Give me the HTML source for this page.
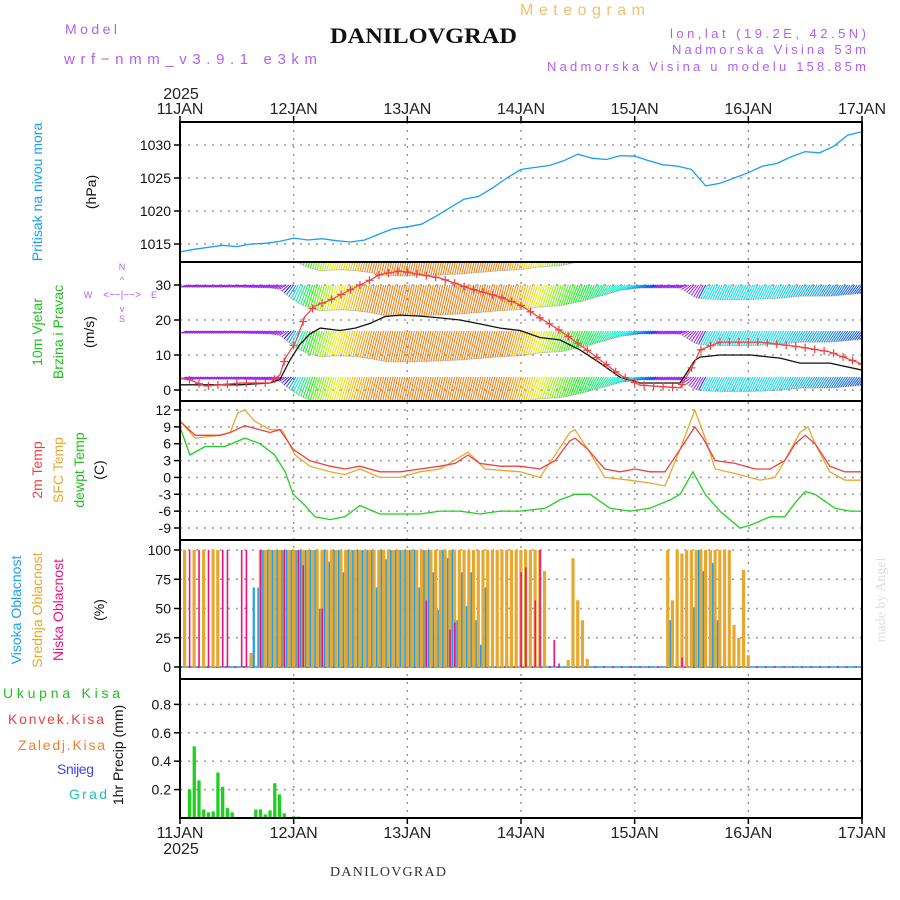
<!DOCTYPE html>
<html><head><meta charset="utf-8"><style>
html,body{margin:0;padding:0;background:#fff;}
svg{display:block;font-family:"Liberation Sans",sans-serif;}
</style></head><body>
<svg id="chart" width="900" height="900" viewBox="0 0 900 900" xmlns="http://www.w3.org/2000/svg">
<defs><clipPath id="clipWind"><rect x="180" y="262" width="682" height="139"/></clipPath></defs>
<g id="header">
<text x="65" y="34" font-size="14" fill="#b060f0" textLength="52" lengthAdjust="spacing">Model</text>
<text x="64" y="64" font-size="15" fill="#b060f0" textLength="253" lengthAdjust="spacing">wrf−nmm_v3.9.1 e3km</text>
<text x="520" y="15" font-size="16" fill="#f0c070" textLength="125" lengthAdjust="spacing">Meteogram</text>
<text x="330" y="43" font-size="22" font-weight="bold" font-family="Liberation Serif,serif" fill="#111" textLength="187" lengthAdjust="spacingAndGlyphs">DANILOVGRAD</text>
<text x="670" y="38" font-size="13" fill="#b060f0" textLength="196" lengthAdjust="spacing">lon,lat (19.2E, 42.5N)</text>
<text x="672" y="54" font-size="13" fill="#b060f0" textLength="194" lengthAdjust="spacing">Nadmorska Visina 53m</text>
<text x="547" y="71" font-size="13" fill="#b060f0" textLength="319" lengthAdjust="spacing">Nadmorska Visina u modelu 158.85m</text>
<text x="181" y="99" font-size="16" fill="#222" text-anchor="middle">2025</text>
<text x="330" y="876" font-size="14" font-family="Liberation Serif,serif" fill="#333" textLength="116" lengthAdjust="spacing">DANILOVGRAD</text>
<text x="885" y="600" font-size="14" font-family="Liberation Serif,serif" fill="#dde0dd" text-anchor="middle" transform="rotate(-90 885 600)">made by Angel</text>
</g>
<g id="labels">
<text transform="translate(42,192) rotate(-90)" font-size="14" fill="#1a9ff0" text-anchor="middle">Pritisak na nivou mora</text>
<text transform="translate(96,192) rotate(-90)" font-size="14" fill="#111" text-anchor="middle">(hPa)</text>
<text transform="translate(42,332) rotate(-90)" font-size="14" fill="#20c020" text-anchor="middle">10m Vjetar</text>
<text transform="translate(63,332) rotate(-90)" font-size="14" fill="#20c020" text-anchor="middle">Brzina i Pravac</text>
<text transform="translate(94,332) rotate(-90)" font-size="14" fill="#111" text-anchor="middle">(m/s)</text>
<g fill="#b060f0" font-size="9" text-anchor="middle">
<text x="122" y="270">N</text><text x="122" y="322">S</text><text x="88" y="298">W</text><text x="154" y="298">E</text>
<text x="122" y="298" font-size="10">&lt;−−|−−&gt;</text>
<text x="122" y="283" font-size="9">^</text><text x="122" y="312" font-size="9">v</text>
</g>
<text transform="translate(42,470) rotate(-90)" font-size="14" fill="#f04040" text-anchor="middle">2m Temp</text>
<text transform="translate(63,470) rotate(-90)" font-size="14" fill="#e8a830" text-anchor="middle">SFC Temp</text>
<text transform="translate(84,470) rotate(-90)" font-size="14" fill="#20c020" text-anchor="middle">dewpt Temp</text>
<text transform="translate(104,470) rotate(-90)" font-size="14" fill="#111" text-anchor="middle">(C)</text>
<text transform="translate(21,610) rotate(-90)" font-size="14" fill="#1a9ff0" text-anchor="middle">Visoka Oblacnost</text>
<text transform="translate(42,610) rotate(-90)" font-size="14" fill="#e8a830" text-anchor="middle">Srednja Oblacnost</text>
<text transform="translate(63,610) rotate(-90)" font-size="14" fill="#f0107f" text-anchor="middle">Niska Oblacnost</text>
<text transform="translate(104,610) rotate(-90)" font-size="14" fill="#111" text-anchor="middle">(%)</text>
<text x="3" y="698" font-size="14" fill="#20c020" textLength="117" lengthAdjust="spacing">Ukupna Kisa</text>
<text x="8" y="724" font-size="14" fill="#f04040" textLength="96" lengthAdjust="spacing">Konvek.Kisa</text>
<text x="18" y="750" font-size="14" fill="#f08030" textLength="87" lengthAdjust="spacing">Zaledj.Kisa</text>
<text x="57" y="774" font-size="14" fill="#4040f0" textLength="37" lengthAdjust="spacing">Snijeg</text>
<text x="69" y="799" font-size="14" fill="#20c0c0" textLength="38" lengthAdjust="spacing">Grad</text>
<text transform="translate(123,755) rotate(-90)" font-size="14" fill="#111" text-anchor="middle">1hr Precip (mm)</text>
</g>
<g id="plot"></g>
</svg>
<script>
// ---------- DATA ----------
const dayLabels = ["11JAN","12JAN","13JAN","14JAN","15JAN","16JAN","17JAN"];
const pressTicks = [1015,1020,1025,1030];
const windTicks = [0,10,20,30];
const tempTicks = [-9,-6,-3,0,3,6,9,12];
const cloudTicks = [0,25,50,75,100];
const precipTicks = [0.2,0.4,0.6,0.8];

const pressHours = [0,3,6,9,12,15,18,21,24,27,30,33,36,39,42,45,48,51,54,57,60,63,66,69,72,75,78,81,84,87,90,93,96,99,102,105,108,111,114,117,120,123,126,129,132,135,138,141,144];
const pressVals = [1013.8,1014.2,1014.5,1014.8,1014.6,1015.0,1015.1,1015.4,1015.9,1015.6,1015.8,1015.5,1015.3,1015.6,1016.5,1017.3,1017.6,1018.0,1019.2,1020.5,1021.8,1022.2,1023.5,1025.0,1026.3,1026.6,1026.9,1027.6,1028.6,1028.0,1027.8,1028.4,1028.3,1027.6,1027.0,1026.8,1026.3,1023.8,1024.2,1025.0,1025.8,1026.8,1027.2,1028.2,1029.0,1028.8,1029.8,1031.5,1032.0];

const speedHours = [0,12.7,19,21.1,23.2,25.3,27.4,29.6,33.8,37,40.1,43.3,46.5,50.7,54.9,59.1,63.3,67.6,71.8,76,80.2,84.5,88.7,92.9,97.1,105.6,108.7,109.8,114,120.4,126.7,130.9,137.2,144];
const speedVals = [1.5,1.5,2,3,8.5,13,16,17.7,17,17.7,19,21,21.4,21.1,20.6,20,18.9,17.7,17,15,14.3,11.4,7.7,3.7,2,2,8.5,9.4,10,10,9.1,7.7,7.7,5.7];
const gustHours = [0,2.1,5.3,12.7,19,21.1,22.2,24.3,26.4,28.5,31.7,35.9,40.1,42.2,46.5,50.7,54.9,61.2,67.6,71.8,76,80.2,84.5,88.7,92.9,97.1,105.6,108.7,109.8,114,122.5,130.9,137.2,144];
const gustVals = [3.4,2.9,1.1,2,2,4.3,9,13.4,21,24,25.7,28.6,31.4,33,34,33,32,29,26.6,24.3,20.6,17,12.9,8.6,4.3,1.4,0.6,8,11.4,13.7,13.7,12.3,10.9,7.4];
const dirHours = [0,21,23,25,28,32,40,68,74,80,86,92,96,99,100,109,110,125,135,144];
const dirHue = [275,275,200,150,100,60,30,30,55,100,140,175,200,225,275,275,185,185,205,225];

const t2Hours = [0,3.2,8.4,10.6,13.7,19,21.1,23.9,27.4,31.7,34.8,38,42.2,46.5,50.7,54.9,58.1,60.8,63.3,67.6,71.8,76,79.2,82.3,83.4,86.1,89.7,92.9,96.1,99.2,102.4,105.6,108.7,110.4,113,117.2,121.4,124.6,127.7,129.9,132,134.1,137.2,140.4,144];
const t2Vals = [10,7.5,7.5,8,9.2,8,8.5,5,3,2,1.5,2,1,1,1.5,2,2.5,4,2.5,2,2,1.5,3,6.5,7,5,1.5,1,1.5,1,1,5,9,7,3,2.5,1.5,1.5,3,6,7.5,6,2,1,1];
const sfcHours = [0,3.2,8.4,10.6,12.2,13.7,15.8,19,21.5,24.3,27.4,31.7,34.8,38,42.2,46.5,50.7,54.9,60.8,64.4,71.8,76,79.2,82.3,83.4,86.1,89.7,95,99.2,102.4,105.6,108.7,110.9,113,118.2,122.5,125.6,127.7,130.9,132.6,134.1,137.2,140.4,144];
const sfcVals = [10,7,7.5,8,11.5,12,10,8.5,8.5,4,2,1,0.5,1.5,0,0,1,1.5,4.5,1.5,1,0,4,8,8.5,5,0,-0.5,-1,-1.5,5,12,7,1.5,0.5,-0.5,0,3,8,9,6,1,-0.5,-0.5];
const dewHours = [0,2.1,5.3,9.5,13.7,16.9,20,22.2,23.9,26.4,28.5,31.7,34.8,38,42.2,46.5,50.7,54.9,59.1,63.3,67.6,71.8,77.1,80.2,83.4,86.6,90.8,95,99.2,103.5,105.6,108.3,110.9,114,118.2,120.4,124.6,127.7,129.9,132,134.1,138.3,141.5,144];
const dewVals = [9,4,5.5,5.5,7,6,4,1,-3,-5,-7,-7.5,-7,-5,-6.5,-6.5,-6.5,-6,-6,-6.5,-6,-6,-5.5,-4,-3,-3,-5.5,-6,-5.5,-4,-3,1,-3,-6,-9,-8.5,-7,-7,-4.5,-2.5,-3,-5.5,-6,-6];

// hourly cloud cover (%) h0..h144
const highCloud = [0,0,0,0,0,0,0,0,0,0,0,0,0,0,0,68,68,100,100,100,100,100,100,100,100,100,100,100,100,50,100,90,100,100,81,100,100,100,100,100,100,68,100,92,100,100,100,100,100,100,68,100,100,81,49,100,93,100,40,81,52,81,40,19,68,0,0,0,0,0,0,0,0,0,0,0,0,0,0,0,0,0,0,0,0,0,0,0,0,0,0,0,0,0,0,0,0,0,0,0,0,0,0,40,0,0,0,0,51,100,82,0,89,40,0,0,0,0,0,0,0,0,0,0,0,0,0,0,0,0,0,0,0,0,0,0,0,0,0,0,0,0,0,0,0];
const midCloud = [0,100,0,100,0,100,0,100,100,0,0,0,0,0,0,12,0,100,100,100,100,100,100,100,100,100,100,100,100,100,100,100,100,100,100,100,100,100,100,100,100,100,100,100,100,100,100,100,100,100,100,100,100,100,100,100,100,100,100,100,100,100,100,100,100,100,100,100,100,100,100,100,100,100,100,100,100,82,0,0,0,0,6,93,57,40,7,0,0,0,0,0,0,0,0,0,0,0,0,0,0,0,0,100,57,100,97,100,100,100,100,100,100,100,100,100,100,36,25,83,10,0,0,0,0,0,0,0,0,0,0,0,0,0,0,0,0,0,0,0,0,0,0,0,0,0];
const lowCloud = [0,0,100,0,100,0,100,0,0,100,100,0,0,100,100,0,0,100,0,0,0,0,100,0,0,100,87,0,0,0,50,0,0,0,0,0,0,0,0,0,0,0,0,0,0,0,0,0,0,0,0,0,57,0,0,0,0,32,38,0,0,0,0,0,0,0,0,0,0,0,0,0,81,85,0,57,100,0,0,23,3,0,0,0,0,0,0,0,0,0,0,0,0,0,0,0,0,0,0,0,0,0,0,0,0,0,8,0,0,0,0,0,0,0,0,0,0,0,0,0,0,0,0,0,0,0,0,0,0,0,0,0,0,0,0,0,0,0,0,0,0];

const precipHours = [2,3,4,5,6,7,8,9,10,11,16,17,18,19,20,21,22,24,25];
const precipVals = [0.2,0.505,0.265,0.06,0.04,0.047,0.32,0.22,0.07,0.04,0.06,0.06,0.026,0.054,0.245,0.167,0.033,0.012,0.01];

// ---------- SCALES ----------
const X0=180, X1=862;
const X = h => X0 + h*(X1-X0)/144;
const Yp = p => 145 + (1030-p)*6.6;
const Yw = v => 390 - v*3.5;
const Yt = t => 410 + (12-t)*5.619;
const Yc = c => 667 - c*1.17;
const Ypr = v => 818 - v*142;
function interp(hs, vs, h){
  if(h<=hs[0]) return vs[0];
  for(let i=1;i<hs.length;i++){ if(h<=hs[i]){const f=(h-hs[i-1])/(hs[i]-hs[i-1]); return vs[i-1]+f*(vs[i]-vs[i-1]);} }
  return vs[vs.length-1];
}
const NS="http://www.w3.org/2000/svg";
const plot=document.getElementById('plot');
function mk(tag, attrs, parent){const e=document.createElementNS(NS,tag);for(const k in attrs)e.setAttribute(k,attrs[k]);(parent||plot).appendChild(e);return e;}
function ptsOf(hs, vs, yf){return hs.map((h,i)=>X(h).toFixed(1)+','+yf(vs[i]).toFixed(1)).join(' ');}

// ---------- GRID ----------
const grid=mk('g',{});


const panels=[[122,262],[262,401],[401,540],[540,679],[679,818]];
for(let d=1;d<6;d++){ mk('line',{x1:X(d*24),x2:X(d*24),y1:122,y2:818,stroke:'#999','stroke-width':1.5,'stroke-dasharray':'2 6'},grid); }
function hgrid(vals, yf){ vals.forEach(v=>mk('line',{x1:X0,x2:X1,y1:yf(v),y2:yf(v),stroke:'#999','stroke-width':1.5,'stroke-dasharray':'2 6'},grid)); }
hgrid(pressTicks,Yp); hgrid(windTicks,Yw); hgrid(tempTicks,Yt); hgrid(cloudTicks,Yc); hgrid(precipTicks,Ypr);

// ---------- PRESSURE ----------
const pl=mk('polyline',{points:ptsOf(pressHours,pressVals,Yp),fill:'none',stroke:'#1a9ff0','stroke-width':1.3});



// ---------- WIND ----------
const wg=mk('g',{'clip-path':'url(#clipWind)'});


const rowBases=[377,331,285,245];
rowBases.forEach(base=>{
  for(let h=0;h<=144;h+=0.5){
    const sp=interp(speedHours,speedVals,h);
    const hue=interp(dirHours,dirHue,h);
    const col=`hsl(${hue},95%,${hue>240?55:48}%)`;
    const depth=Math.max(2,sp*1.45);
    const x=X(h);
    mk('line',{x1:x,y1:base+depth,x2:x+7,y2:base,stroke:col,'stroke-width':1},wg);
  }
  let lo=[];
  for(let h=0;h<=144;h+=1){const sp=interp(speedHours,speedVals,h);lo.push(X(h)+','+(base+Math.max(2,sp*1.45)));}
  mk('polyline',{points:lo.join(' '),fill:'none',stroke:'rgba(120,120,60,0.35)','stroke-width':1},wg);
});
const sl=mk('polyline',{points:ptsOf(speedHours,speedVals,Yw),fill:'none',stroke:'#111','stroke-width':1.3,'clip-path':'url(#clipWind)'});


const gl=mk('polyline',{points:ptsOf(gustHours,gustVals,Yw),fill:'none',stroke:'#f04040','stroke-width':1.2,'clip-path':'url(#clipWind)'});


const gm=mk('g',{stroke:'#f04040','stroke-width':1.2,'clip-path':'url(#clipWind)'});


for(let h=0;h<=144;h+=2){const x=X(h),y=Yw(interp(gustHours,gustVals,h));mk('path',{d:`M${x-4},${y}H${x+4}M${x},${y-4}V${y+4}`},gm);}

// ---------- TEMPERATURE ----------
[[sfcHours,sfcVals,'#e8a830','sfc-temp-line'],[t2Hours,t2Vals,'#f04040','temp-2m-line'],[dewHours,dewVals,'#20d020','dewpoint-line']].forEach(s=>{
  const l=mk('polyline',{points:ptsOf(s[0],s[1],Yt),fill:'none',stroke:s[2],'stroke-width':1.3});
  
  
});

// ---------- CLOUDS ----------
const cg=mk('g',{});


mk('line',{x1:X0,x2:X1,y1:Yc(0),y2:Yc(0),stroke:'#1a9ff0','stroke-width':1.5},cg);
mk('line',{x1:X0,x2:X1,y1:Yc(0),y2:Yc(0),stroke:'#f0107f','stroke-width':1.5,'stroke-dasharray':'2 7'},cg);
for(let h=0;h<=144;h++){
  const x=X(h);
  if(midCloud[h]>0){const b=mk('rect',{x:x-1.7,y:Yc(midCloud[h]),width:3.2,height:Yc(0)-Yc(midCloud[h]),fill:'#e8a830'},cg);}
  if(highCloud[h]>0){const b=mk('rect',{x:x+1.6,y:Yc(highCloud[h]),width:2.2,height:Yc(0)-Yc(highCloud[h]),fill:'#1a9ff0'},cg);}
  if(lowCloud[h]>0){const b=mk('rect',{x:x-0.7,y:Yc(lowCloud[h]),width:1.6,height:Yc(0)-Yc(lowCloud[h]),fill:'#f0107f'},cg);}
}

// ---------- PRECIP ----------
const pg=mk('g',{});


precipHours.forEach((h,i)=>{const b=mk('rect',{x:X(h)-1.6,y:Ypr(precipVals[i]),width:3.3,height:818-Ypr(precipVals[i]),fill:'#20d020'},pg);});

// ---------- FRAMES & AXES ----------
const ax=mk('g',{});


panels.forEach(p=>mk('rect',{x:X0,y:p[0],width:X1-X0,height:p[1]-p[0],fill:'none',stroke:'#000','stroke-width':2},ax));
function yTicks(vals,yf,fmt){vals.forEach(v=>{const y=yf(v);mk('line',{x1:X0-6,x2:X0,y1:y,y2:y,stroke:'#000','stroke-width':1.5},ax);const t=mk('text',{x:X0-9,y:y+5,'font-size':14,'text-anchor':'end',fill:'#111'},ax);t.textContent=fmt?fmt(v):v;});}
yTicks(pressTicks,Yp); yTicks(windTicks,Yw); yTicks(tempTicks,Yt); yTicks(cloudTicks,Yc); yTicks(precipTicks,Ypr,v=>v.toFixed(1));
dayLabels.forEach((d,i)=>{const x=X(i*24);
  mk('line',{x1:x,x2:x,y1:116,y2:122,stroke:'#000','stroke-width':1.5},ax);
  mk('line',{x1:x,x2:x,y1:818,y2:824,stroke:'#000','stroke-width':1.5},ax);
  const t=mk('text',{x:x,y:114,'font-size':16,'text-anchor':'middle',fill:'#222'},ax);t.textContent=d;
  const b=mk('text',{x:x,y:838,'font-size':16,'text-anchor':'middle',fill:'#222'},ax);b.textContent=d;});
const yr=mk('text',{x:181,y:854,'font-size':16,'text-anchor':'middle',fill:'#222'},ax);yr.textContent="2025";
</script>
</body></html>
